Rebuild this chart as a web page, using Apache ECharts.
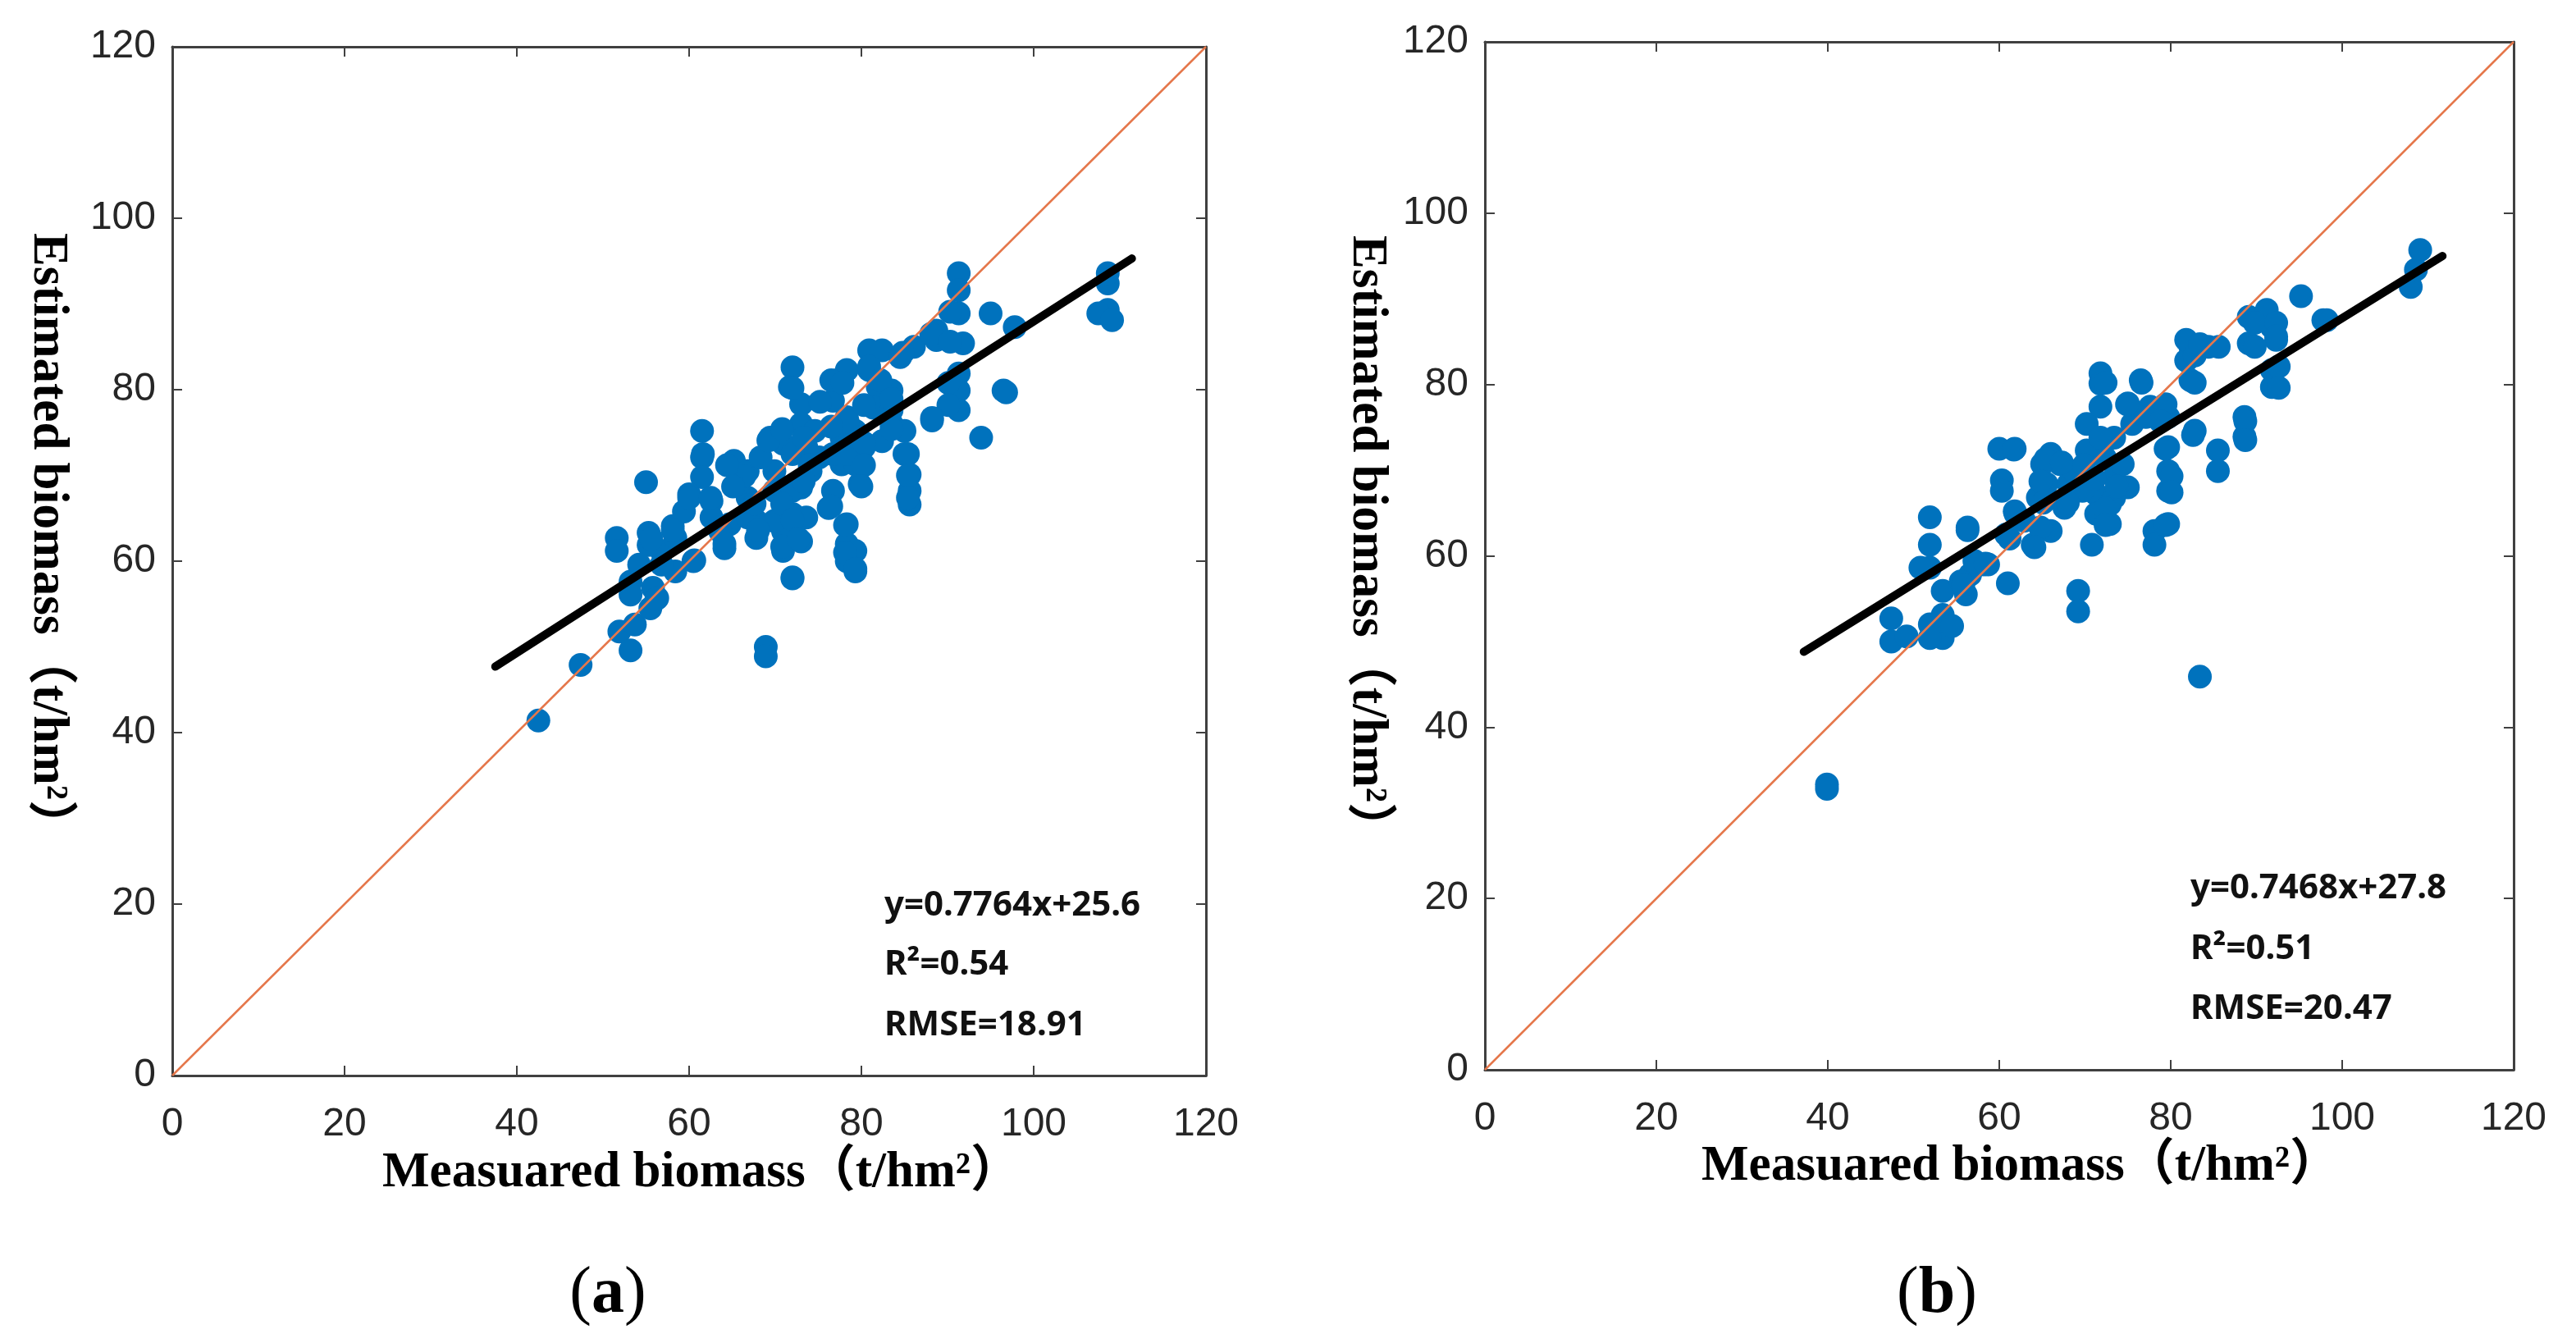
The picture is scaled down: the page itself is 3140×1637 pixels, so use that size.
<!DOCTYPE html>
<html>
<head>
<meta charset="utf-8">
<script src="https://cdn.jsdelivr.net/npm/echarts@6/dist/echarts.min.js"></script>
<style>
html,body{margin:0;padding:0;background:#fff;}
#chart{width:3140px;height:1637px;}
</style>
</head>
<body>
<div id="chart"></div>
<script>
// ---------- data ----------
const pointsA = [
[42.5,41.4],[47.4,47.9],[51.9,51.8],[53.7,52.6],[53.2,49.6],[51.6,62.7],[51.6,61.2],[55.0,69.2],
[55.3,63.3],[58.1,64.1],[53.2,57.6],[53.2,56.1],[55.5,54.5],[55.8,56.9],[58.4,58.8],[60.5,60.0],
[61.5,75.2],[61.5,72.1],[61.5,69.8],[60.0,67.8],[62.6,67.0],[65.2,71.7],[64.1,61.5],[64.7,64.3],
[66.8,67.4],[67.8,64.7],[67.8,62.7],[68.9,50.0],[68.9,48.9],[69.4,74.4],[70.9,73.7],[69.9,70.5],
[72.0,82.6],[71.7,80.3],[73.0,78.3],[73.0,76.0],[72.0,68.2],[72.0,65.5],[70.9,63.5],[70.9,61.2],
[72.0,58.0],[73.0,62.3],[73.6,65.1],[74.6,75.2],[75.1,72.1],[74.1,70.5],[76.2,66.2],[77.2,81.1],
[76.7,78.7],[78.3,76.8],[77.7,74.4],[77.7,71.3],[78.3,64.3],[78.3,62.0],[78.3,60.0],[79.3,58.8],
[79.3,61.2],[79.8,69.0],[80.3,73.3],[80.9,84.6],[80.9,82.3],[81.9,80.3],[82.4,84.6],[81.4,77.9],
[83.5,76.0],[84.5,83.8],[85.0,75.2],[85.0,72.5],[85.6,70.1],[85.6,68.2],[85.6,66.6],[88.2,76.4],
[88.7,86.9],[88.7,85.8],[91.3,93.6],[91.3,91.6],[91.3,88.9],[91.8,85.4],[91.3,81.9],[91.3,79.9],
[91.3,77.6],[95.0,88.9],[93.9,74.4],[96.5,79.9],[97.8,87.3],[108.6,92.4],[108.6,89.3],[107.5,88.9],
[109.1,88.1],[108.6,93.6],[66.8,70.5],[65.7,69.0],[68.3,72.1],[69.9,68.2],[62.6,65.1],[59.4,65.8],
[56.8,61.2],[56.8,59.6],[76.7,68.2],[79.3,71.3],[76.7,72.5],[82.4,74.0],[83.5,77.6],[79.3,75.2],
[86.1,85.0],[83.5,79.9],[66.8,65.1],[69.9,64.7],[63.6,63.5],[55.3,61.9],[56.3,55.7],[54.2,59.6],
[58.4,62.7],[78.3,82.3],[73.0,68.6],[73.6,73.3],
[69.2,74.1],[70.8,75.4],[72.0,72.5],[73.3,74.4],[74.0,71.2],[72.0,68.4],[73.3,69.3],[70.8,66.7],
[72.0,64.8],[70.8,61.7],[72.7,62.6],[67.6,66.7],[68.0,63.6],[66.4,69.9],[64.4,71.2],[65.1,68.7],
[61.6,72.5],[60.0,67.4],[62.5,67.4],[64.1,62.0],[58.1,63.6],[55.6,62.6],[60.6,60.1],[56.2,55.6],
[75.2,78.6],[76.5,81.1],[77.8,80.8],[72.0,80.2],[80.9,82.7],[82.2,81.1],[84.8,84.3],[83.5,78.9],
[80.3,78.2],[78.4,76.3],[76.5,75.7],[78.4,72.5],[80.3,73.8],[80.3,71.2],[80.0,68.7],[83.5,75.4],
[85.4,72.5],[85.4,70.0],[85.4,67.4],[76.5,66.4],[78.1,64.2],[78.1,61.0],[79.3,59.1],[72.0,58.1],
[88.1,86.5],[90.3,85.6],[90.3,89.1],[90.1,80.8],[90.1,78.2],[88.2,76.7],[96.8,79.7]
];
const pointsB = [
[83.4,45.9],[47.4,52.7],[47.4,50.0],[49.2,50.6],[51.9,52.0],[53.4,50.4],[53.4,53.1],[53.4,55.9],
[51.9,64.5],[51.9,61.3],[51.9,58.6],[56.3,63.3],[56.1,55.5],[56.6,57.8],[58.2,59.0],[61.0,56.8],
[60.0,72.5],[61.8,72.5],[60.3,68.8],[60.3,67.6],[61.8,65.2],[60.8,62.5],[63.9,61.3],[65.0,70.7],
[65.5,68.4],[64.5,66.8],[67.1,70.7],[68.1,68.4],[67.6,65.6],[69.2,55.9],[69.2,53.5],[70.2,75.4],
[70.2,72.3],[71.8,81.3],[71.8,80.1],[71.8,77.4],[70.8,61.3],[71.3,67.2],[72.9,66.0],[72.9,63.7],
[73.4,69.2],[73.4,73.8],[75.0,77.8],[75.5,75.4],[75.0,68.0],[74.4,70.7],[76.5,80.5],[77.6,77.4],
[79.2,77.4],[79.7,72.7],[79.7,69.9],[79.7,67.6],[78.1,62.9],[79.7,63.7],[78.1,61.3],[82.3,84.4],
[81.8,82.8],[82.3,80.5],[82.8,74.6],[84.4,84.4],[85.5,72.3],[85.5,69.9],[88.6,76.2],[88.6,73.9],
[89.1,87.9],[89.1,84.8],[91.2,88.7],[91.8,86.7],[91.8,81.7],[91.8,79.7],[92.3,85.2],[95.2,90.3],
[97.8,87.5],[108.0,91.4],[109.1,95.7],[108.6,93.4],[66.0,62.9],[62.9,64.1],[66.0,71.9],[68.7,69.9],
[72.3,71.5],[73.4,66.8],[69.7,67.6],[71.3,64.9],[57.1,59.4],[55.5,57.0],[58.7,59.0],[77.1,76.2],
[79.7,76.2],[51.9,50.4],[50.8,58.6],[81.8,85.2],[39.9,33.3],[39.9,32.8],
[61.7,72.4],[61.9,64.9],[56.3,63.0],[61.2,62.0],[58.4,59.1],[55.8,56.6],[54.5,51.8],[65.4,71.3],
[67.3,70.9],[64.8,68.7],[65.1,66.2],[64.8,63.3],[64.1,61.0],[68.0,66.2],[69.9,70.6],[71.8,73.8],
[72.4,80.2],[71.1,69.0],[73.7,68.1],[72.4,65.5],[72.4,63.6],[74.9,77.7],[76.6,80.2],[79.4,77.7],
[78.8,75.7],[82.6,74.1],[79.4,72.5],[80.1,69.3],[80.1,67.4],[79.4,63.6],[82.8,83.4],[82.8,80.2],
[83.4,84.7],[85.6,84.4],[89.8,84.4],[89.8,87.2],[92.3,87.2],[92.3,85.6],[92.6,82.1],[92.6,79.6],
[98.2,87.5],[88.7,75.7],[88.7,73.5]
];
const identityLine = [[0,0],[120,120]];
const fitLineA = [[37.5,47.7],[111.4,95.3]];
const fitLineB = [[37.2,48.8],[111.7,95.0]];
const statsA = ['y=0.7764x+25.6','R²=0.54','RMSE=18.91'];
const statsB = ['y=0.7468x+27.8','R²=0.51','RMSE=20.47'];
const xTitle = 'Measuared biomass（t/hm²）';
const yTitle = 'Estimated biomass（t/hm²）';
const captions = ['a','b'];

// ---------- layout ----------
const grids = [
  {left:210, top:57, width:1260, height:1254},
  {left:1810, top:51, width:1254, height:1253}
];
const axisColor = '#404040';
function makeAxis(gridIndex, position, showLabel, isX){
  return {
    type:'value', gridIndex, position, min:0, max:120, interval:20,
    axisLine:{show:true, onZero:false, lineStyle:{color:axisColor, width:3}},
    axisTick:{show:true, inside:true, length:12, lineStyle:{color:axisColor, width:2}},
    splitLine:{show:false},
    axisLabel:{show:showLabel, color:'#262626', fontFamily:'Liberation Sans', fontSize:48,
               margin: isX ? 36 : 20}
  };
}
const xAxis = [], yAxis = [];
grids.forEach((g,i)=>{
  xAxis.push(makeAxis(i,'bottom',true,true));
  xAxis.push(makeAxis(i,'top',false,true));
  yAxis.push(makeAxis(i,'left',true,false));
  yAxis.push(makeAxis(i,'right',false,false));
});

const series = [];
[pointsA, pointsB].forEach((pts,i)=>{
  series.push({type:'scatter', xAxisIndex:i*2, yAxisIndex:i*2, data:pts, symbolSize:29,
    itemStyle:{color:'#0072BD', opacity:1}, z:2, silent:true});
  series.push({type:'line', xAxisIndex:i*2, yAxisIndex:i*2, data:identityLine, symbol:'none',
    lineStyle:{color:'#E5774B', width:2.5}, z:3, silent:true});
  series.push({type:'line', xAxisIndex:i*2, yAxisIndex:i*2, data:i===0?fitLineA:fitLineB, symbol:'none',
    lineStyle:{color:'#000', width:10, cap:'round'}, z:4, silent:true});
});

const statFont = 'bold 42px "Noto Sans"';
const graphic = [];
const statPos = [{x:1078, ys:[1104,1176,1250]}, {x:2670, ys:[1083,1157,1230]}];
[statsA, statsB].forEach((arr,i)=>{
  arr.forEach((t,k)=>{
    graphic.push({type:'text', x:statPos[i].x, y:statPos[i].ys[k], z:10,
      style:{text:t, font:statFont, fill:'#111', align:'left', verticalAlign:'middle',
             textAlign:'left', textVerticalAlign:'middle'}});
  });
});
const titleFont = 'bold 61px "Liberation Serif", "Noto Sans CJK SC"';
const xTitlePos = [{x:855, y:1430},{x:2463, y:1422}];
const yTitlePos = [{x:58, y:660},{x:1666, y:663}];
for(let i=0;i<2;i++){
  graphic.push({type:'text', x:xTitlePos[i].x, y:xTitlePos[i].y, z:10,
    style:{text:xTitle, font:titleFont, fill:'#000', align:'center', verticalAlign:'middle',
           textAlign:'center', textVerticalAlign:'middle'}});
  graphic.push({type:'text', x:yTitlePos[i].x, y:yTitlePos[i].y, rotation:-Math.PI/2, z:10,
    style:{text:yTitle, font:titleFont, fill:'#000', align:'center', verticalAlign:'middle',
           textAlign:'center', textVerticalAlign:'middle'}});
}
const capPos = [{x:741, y:1578},{x:2361, y:1578}];
captions.forEach((c,i)=>{
  graphic.push({type:'text', x:capPos[i].x, y:capPos[i].y, z:10,
    style:{text:'{n|(}{b|'+c+'}{n|)}', align:'center', verticalAlign:'middle',
           textAlign:'center', textVerticalAlign:'middle',
           rich:{
             n:{fontFamily:'Liberation Serif', fontSize:80, fontWeight:'normal', fill:'#000', color:'#000'},
             b:{fontFamily:'Liberation Serif', fontSize:80, fontWeight:'bold', fill:'#000', color:'#000'}
           }}});
});

const chart = echarts.init(document.getElementById('chart'));
chart.setOption({
  backgroundColor:'#fff',
  animation:false,
  grid: grids.map(g=>Object.assign({containLabel:false}, g)),
  xAxis, yAxis, series, graphic
});
</script>
</body>
</html>
